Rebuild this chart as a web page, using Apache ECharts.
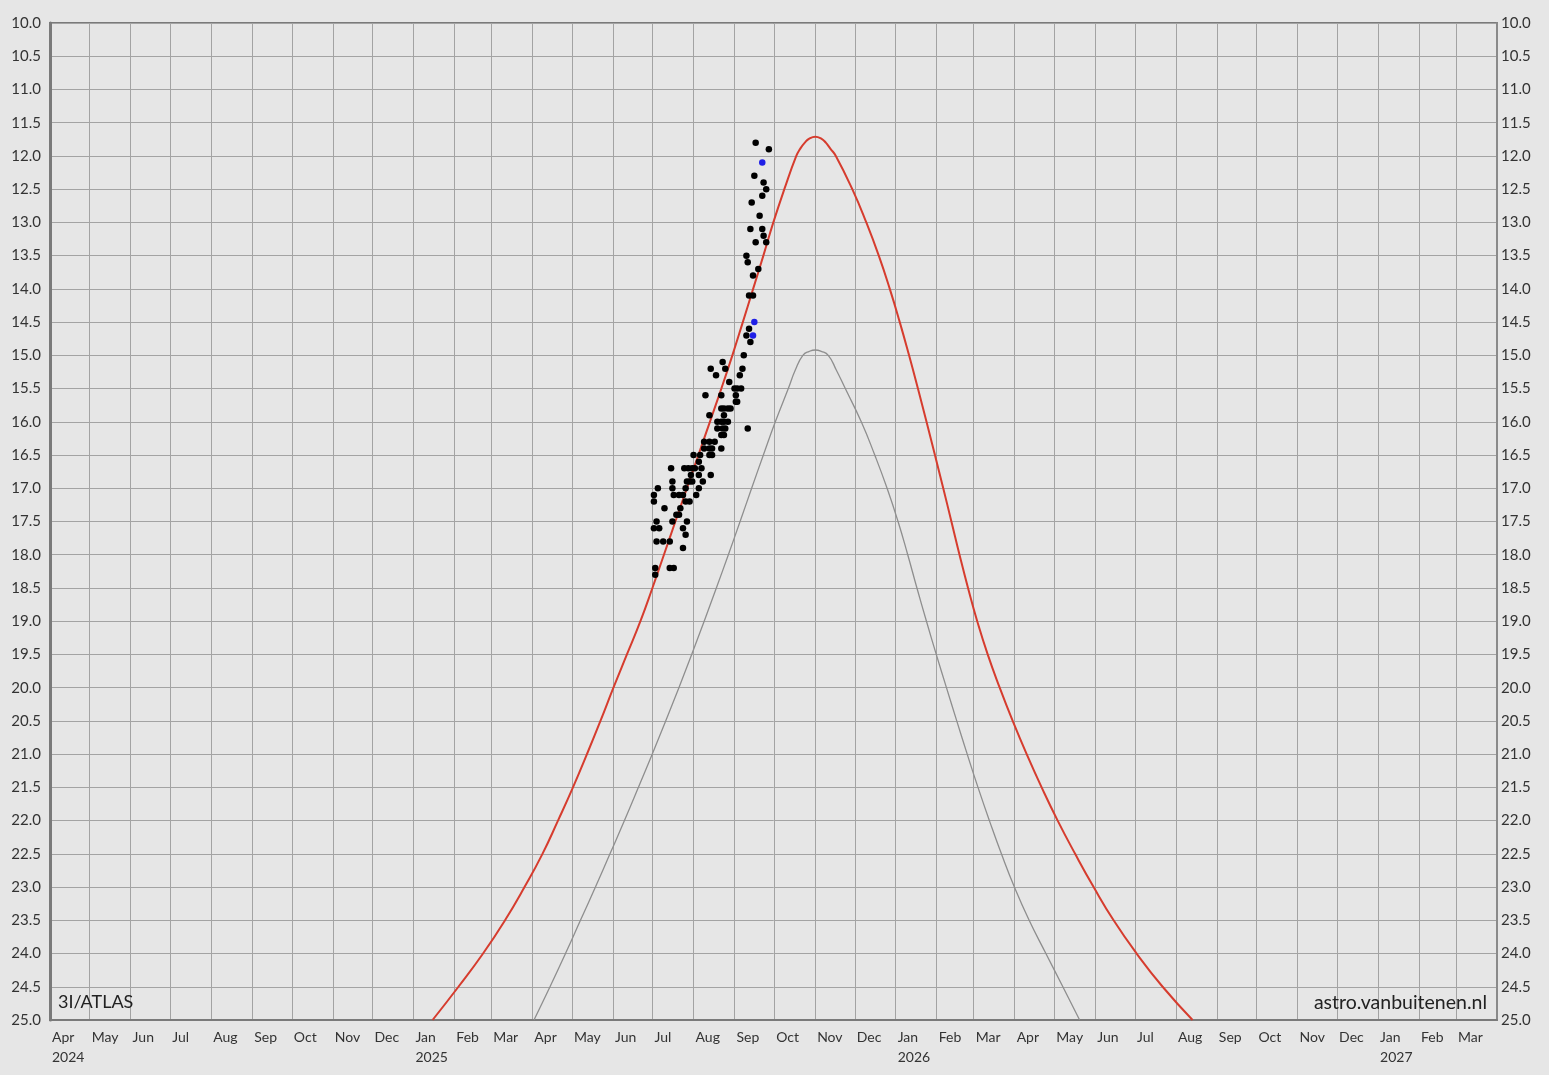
<!DOCTYPE html>
<html><head><meta charset="utf-8">
<script src="https://cdn.jsdelivr.net/npm/echarts@6/dist/echarts.min.js"></script>
<style>html,body{margin:0;padding:0;background:#e6e6e6;}#chart{width:1549px;height:1075px;}</style>
</head><body><div id="chart"></div>
<script>
// Month grid (gridlines at month starts) and tick labels
const gridDates = ['2024-04-01','2024-05-01','2024-06-01','2024-07-01','2024-08-01','2024-09-01','2024-10-01','2024-11-01','2024-12-01',
  '2025-01-01','2025-02-01','2025-03-01','2025-04-01','2025-05-01','2025-06-01','2025-07-01','2025-08-01','2025-09-01','2025-10-01','2025-11-01','2025-12-01',
  '2026-01-01','2026-02-01','2026-03-01','2026-04-01','2026-05-01','2026-06-01','2026-07-01','2026-08-01','2026-09-01','2026-10-01','2026-11-01','2026-12-01',
  '2027-01-01','2027-02-01','2027-03-01','2027-04-01'];
const tickLabels = ['Apr\n2024','May','Jun','Jul','Aug','Sep','Oct','Nov','Dec',
  'Jan\n2025','Feb','Mar','Apr','May','Jun','Jul','Aug','Sep','Oct','Nov','Dec',
  'Jan\n2026','Feb','Mar','Apr','May','Jun','Jul','Aug','Sep','Oct','Nov','Dec',
  'Jan\n2027','Feb','Mar'];
const labelDates = gridDates.slice(0, tickLabels.length);

// Predicted total magnitude (red)
const redDates = ['2025-01-15T12','2025-02-04T02','2025-02-22T17','2025-03-11T08','2025-03-26T02','2025-04-08T16','2025-04-20T10','2025-05-01T18',
  '2025-05-12T08','2025-05-22T13','2025-06-01T09','2025-06-11T14','2025-06-21T19','2025-06-30T21','2025-07-09T14','2025-07-18T06','2025-07-26T23',
  '2025-08-04T16','2025-08-13T09','2025-08-22T01','2025-08-30T09','2025-09-07T07','2025-09-15T02','2025-09-22T20','2025-09-30T09','2025-10-08T17',
  '2025-10-17T18','2025-10-20T19','2025-10-24T05','2025-10-27T14','2025-11-01T03','2025-11-05T16','2025-11-09T02','2025-11-12T12','2025-11-16T16',
  '2025-11-29T03','2025-12-09T17','2025-12-19T04','2025-12-27T12',
  '2026-01-04T01','2026-01-11T02','2026-01-17T19','2026-01-24T07','2026-01-30T16','2026-02-05T23','2026-02-12T03','2026-02-18T06','2026-02-24T17',
  '2026-03-03T16','2026-03-11T14','2026-03-20T16','2026-03-30T12','2026-04-10T02','2026-04-21T10','2026-05-03T13','2026-05-16T18','2026-05-30T18',
  '2026-06-14T21','2026-07-02T07','2026-07-21T23','2026-08-13T15'];
const redMags = [25.0,24.5,24.0,23.5,23.0,22.5,22.0,21.5,
  21.0,20.5,20.0,19.5,19.0,18.5,18.0,17.5,17.0,
  16.5,16.0,15.5,15.0,14.5,14.0,13.5,13.0,12.5,
  12.0,11.89,11.8,11.74,11.71,11.74,11.8,11.89,12.0,
  12.5,13.0,13.5,14.0,
  14.5,15.0,15.5,16.0,16.5,17.0,17.5,18.0,18.5,
  19.0,19.5,20.0,20.5,21.0,21.5,22.0,22.5,23.0,
  23.5,24.0,24.5,25.0];

// Predicted nuclear magnitude (grey)
const grayDates = ['2025-04-02T06','2025-04-14T09','2025-04-26T02','2025-05-07T10','2025-05-18T18','2025-05-29T18','2025-06-09T17','2025-06-20T07',
  '2025-06-30T17','2025-07-10T22','2025-07-20T22','2025-07-30T14','2025-08-09T01','2025-08-18T06','2025-08-27T08','2025-09-05T05','2025-09-13T23',
  '2025-09-22T20','2025-10-01T21','2025-10-11T17','2025-10-17T00','2025-10-22T17','2025-10-27T14','2025-11-01T03','2025-11-05T16','2025-11-10T23',
  '2025-11-17T00','2025-11-23T20',
  '2025-12-05T22','2025-12-16T03','2025-12-25T11','2026-01-02T18','2026-01-10T02','2026-01-17T01','2026-01-24T06','2026-01-31T16','2026-02-08T09',
  '2026-02-16T04','2026-02-24T02','2026-03-04T06','2026-03-12T21','2026-03-21T23','2026-03-31T19','2026-04-11T23','2026-04-24T15','2026-05-07T11',
  '2026-05-20T04'];
const grayMags = [25.0,24.5,24.0,23.5,23.0,22.5,22.0,21.5,
  21.0,20.5,20.0,19.5,19.0,18.5,18.0,17.5,17.0,
  16.5,16.0,15.5,15.22,15.0,14.94,14.92,14.94,15.0,
  15.22,15.5,
  16.0,16.5,17.0,17.5,18.0,18.5,19.0,19.5,20.0,
  20.5,21.0,21.5,22.0,22.5,23.0,23.5,24.0,24.5,
  25.0];

// Observations (black)
const obsDates = ['2025-09-17','2025-09-27','2025-09-16','2025-09-23','2025-09-25','2025-09-22','2025-09-14','2025-09-20','2025-09-13','2025-09-22',
  '2025-09-23','2025-09-17','2025-09-25','2025-09-10','2025-09-11','2025-09-19','2025-09-15','2025-09-12','2025-09-15','2025-09-12',
  '2025-09-10','2025-09-13','2025-09-08','2025-08-23','2025-08-14','2025-08-25','2025-09-07','2025-08-18','2025-09-05','2025-08-28',
  '2025-09-01','2025-09-03','2025-09-06','2025-08-10','2025-08-22','2025-09-02','2025-09-02','2025-09-03','2025-08-22','2025-08-24',
  '2025-08-27','2025-08-29','2025-08-13','2025-08-24','2025-08-19','2025-08-22','2025-08-24','2025-08-27','2025-08-19','2025-08-23',
  '2025-08-25','2025-09-11','2025-08-22','2025-08-24','2025-08-09','2025-08-13','2025-08-17','2025-08-09','2025-08-13','2025-08-15',
  '2025-08-22','2025-08-01','2025-08-06','2025-08-13','2025-08-15','2025-08-05','2025-07-15','2025-07-25','2025-07-28','2025-07-31',
  '2025-08-02','2025-08-07','2025-07-30','2025-08-05','2025-08-14','2025-07-16','2025-07-27','2025-07-29','2025-07-31','2025-08-08',
  '2025-07-05','2025-07-16','2025-07-26','2025-08-05','2025-07-02','2025-07-17','2025-07-21','2025-07-24','2025-08-03','2025-07-02',
  '2025-07-26','2025-07-29','2025-07-10','2025-07-22','2025-07-19','2025-07-21','2025-07-04','2025-07-16','2025-07-27','2025-07-02',
  '2025-07-06','2025-07-24','2025-07-26','2025-07-04','2025-07-09','2025-07-14','2025-07-24','2025-07-03','2025-07-14','2025-07-17',
  '2025-07-03'];
const obsMags = [11.8,11.9,12.3,12.4,12.5,12.6,12.7,12.9,13.1,13.1,
  13.2,13.3,13.3,13.5,13.6,13.7,13.8,14.1,14.1,14.6,
  14.7,14.8,15.0,15.1,15.2,15.2,15.2,15.3,15.3,15.4,
  15.5,15.5,15.5,15.6,15.6,15.6,15.7,15.7,15.8,15.8,
  15.8,15.8,15.9,15.9,16.0,16.0,16.0,16.0,16.1,16.1,
  16.1,16.1,16.2,16.2,16.3,16.3,16.3,16.4,16.4,16.4,
  16.4,16.5,16.5,16.5,16.5,16.6,16.7,16.7,16.7,16.7,
  16.7,16.7,16.8,16.8,16.8,16.9,16.9,16.9,16.9,16.9,
  17.0,17.0,17.0,17.0,17.1,17.1,17.1,17.1,17.1,17.2,
  17.2,17.2,17.3,17.3,17.4,17.4,17.5,17.5,17.5,17.6,
  17.6,17.6,17.7,17.8,17.8,17.8,17.9,18.2,18.2,18.2,
  18.3];

// Observations (blue)
const blueDates = ['2025-09-22','2025-09-16','2025-09-15'];
const blueMags = [12.1,14.5,14.7];

// dates -> UTC timestamps for a linear value axis
const ts = d => Date.parse(d.length === 10 ? d + 'T00:00:00Z' : d + ':00:00Z');
const zip = (a, b) => a.map((d, i) => [ts(d), b[i]]);
const gridTs = gridDates.map(ts);
const labelTs = labelDates.map(ts);
const labelMap = {};
labelTs.forEach((t, i) => { labelMap[t] = tickLabels[i]; });

const FONT = 'Lato';
const chart = echarts.init(document.getElementById('chart'));
const yCommon = {
  type: 'value', min: 10, max: 25, interval: 0.5, inverse: true,
  axisTick: { show: false },
  axisLabel: { formatter: v => v.toFixed(1), color: '#333', fontSize: 15, fontFamily: FONT }
};
chart.setOption({
  backgroundColor: '#e6e6e6',
  animation: false,
  grid: { left: 50, right: 52, top: 23, bottom: 55, show: true, borderColor: '#7a7a7a', borderWidth: 2, backgroundColor: 'transparent' },
  xAxis: {
    type: 'value', min: gridTs[0], max: gridTs[gridTs.length - 1],
    axisLine: { show: true, onZero: false, lineStyle: { color: '#7a7a7a', width: 2 } },
    axisTick: { show: false, customValues: gridTs },
    splitLine: { show: true, lineStyle: { color: '#a3a3a3', width: 1 } },
    axisLabel: {
      customValues: labelTs, hideOverlap: false, showMinLabel: true, showMaxLabel: true,
      formatter: v => labelMap[v] !== undefined ? labelMap[v] : '',
      align: 'left', padding: [0, 0, 0, 2], margin: 7, lineHeight: 20,
      color: '#333', fontSize: 14, fontFamily: FONT
    }
  },
  yAxis: [
    Object.assign({}, yCommon, {
      position: 'left',
      axisLine: { show: true, lineStyle: { color: '#7a7a7a', width: 3 } },
      axisLabel: Object.assign({}, yCommon.axisLabel, { margin: 9 }),
      splitLine: { show: true, lineStyle: { color: '#a3a3a3', width: 1 } }
    }),
    Object.assign({}, yCommon, {
      position: 'right',
      axisLine: { show: true, lineStyle: { color: '#8a8a8a', width: 2 } },
      axisLabel: Object.assign({}, yCommon.axisLabel, { margin: 4 }),
      splitLine: { show: false }
    })
  ],
  series: [
    { type: 'line', name: 'nucleus', data: zip(grayDates, grayMags), smooth: 0.5, showSymbol: false,
      lineStyle: { color: '#8e8e8e', width: 1.3 }, z: 2 },
    { type: 'line', name: 'total', data: zip(redDates, redMags), smooth: 0.5, showSymbol: false,
      lineStyle: { color: '#d63c2e', width: 2 }, z: 3 },
    { type: 'scatter', name: 'obs', data: zip(obsDates, obsMags), symbolSize: 6.5, itemStyle: { color: '#000', opacity: 1 }, z: 5 },
    { type: 'scatter', name: 'obs2', data: zip(blueDates, blueMags), symbolSize: 6.5, itemStyle: { color: '#1f1fe6', opacity: 1 }, z: 6 }
  ],
  graphic: [
    { type: 'text', left: 58, top: 993, z: 100, style: { text: '3I/ATLAS', font: '18px ' + FONT, fill: '#222' } },
    { type: 'text', right: 62, top: 993, z: 100, style: { text: 'astro.vanbuitenen.nl', font: '19.5px ' + FONT, fill: '#222' } }
  ]
});
</script>
</body></html>
